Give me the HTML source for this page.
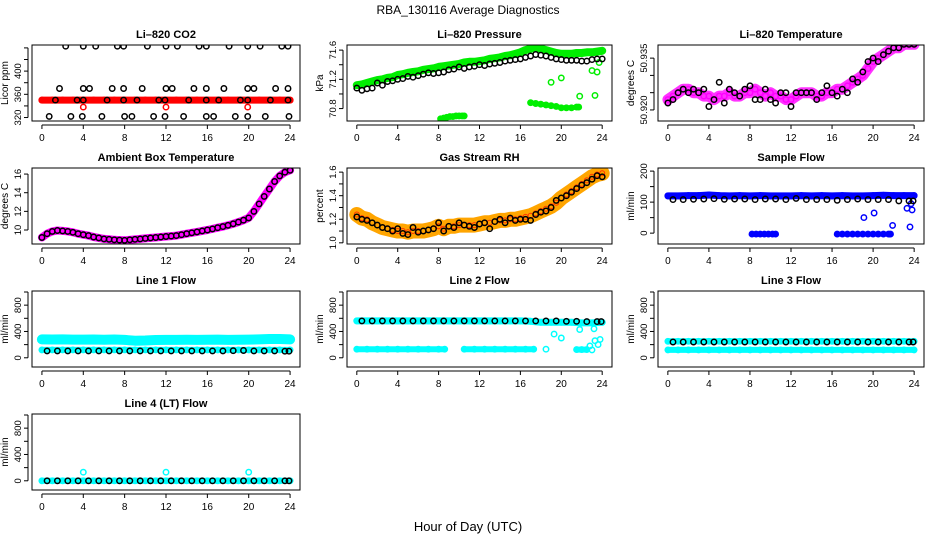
<!DOCTYPE html>
<html><head><meta charset="utf-8"><style>
html,body{margin:0;padding:0;background:#fff;}
svg{display:block;font-family:"Liberation Sans",Arial,sans-serif;}
</style></head><body>
<svg id="chart" width="936" height="540" viewBox="0 0 936 540" xmlns="http://www.w3.org/2000/svg">
<rect x="0" y="0" width="936" height="540" fill="#fff"/>
<text x="468" y="14" text-anchor="middle" font-size="12">RBA_130116  Average Diagnostics</text>
<text x="468" y="531" text-anchor="middle" font-size="13">Hour of Day (UTC)</text>
</svg>
<script>
// ---- data ----
const xTicks = [0,4,8,12,16,20,24];
const H49 = [0,0.5,1,1.5,2,2.5,3,3.5,4,4.5,5,5.5,6,6.5,7,7.5,8,8.5,9,9.5,10,10.5,11,11.5,12,12.5,13,13.5,14,14.5,15,15.5,16,16.5,17,17.5,18,18.5,19,19.5,20,20.5,21,21.5,22,22.5,23,23.5,24];
const H25 = [0,1,2,3,4,5,6,7,8,9,10,11,12,13,14,15,16,17,18,19,20,21,22,23,24];
const H25b = [0.5,1.5,2.5,3.5,4.5,5.5,6.5,7.5,8.5,9.5,10.5,11.5,12.5,13.5,14.5,15.5,16.5,17.5,18.5,19.5,20.5,21.5,22.5,23.5,23.9];

// CO2
const co2Red = [350,350,350,350,350,350,350,350,350,350,350,350,350,350,350,350,350,350,350,350,350,350,350,350,350];
const co2RedLowT = [4,12,19.9];
const co2RedLowV = [338,338,338];
const co2BlackT = [2.3,4.0,5.2,7.3,7.9,10.2,12.0,13.1,15.2,15.9,18.1,19.9,21.1,23.2,23.8,
 1.7,4.0,4.6,6.8,7.9,9.7,12.0,12.6,14.7,15.9,17.6,19.9,20.5,22.6,23.8,
 1.3,3.4,4.0,6.3,7.9,9.2,11.3,11.9,14.2,15.9,17.1,19.2,19.9,22.1,23.8,
 0.7,2.8,3.9,5.8,8.0,8.7,10.8,11.9,13.7,15.9,16.6,18.7,19.9,21.6,23.9];
const co2BlackV = [443,443,443,443,443,443,443,443,443,443,443,443,443,443,443,
 370,370,370,370,370,370,370,370,370,370,370,370,370,370,370,
 350,350,350,350,350,350,350,350,350,350,350,350,350,350,350,
 322,322,322,322,322,322,322,322,322,322,322,322,322,322,322];

// Pressure
const presGreen = [71.12,71.13,71.15,71.17,71.19,71.2,71.22,71.23,71.26,71.27,71.29,71.3,71.31,71.33,71.34,71.35,71.37,71.38,71.39,71.4,71.41,71.43,71.44,71.44,71.45,71.46,71.48,71.49,71.5,71.52,71.53,71.55,71.57,71.6,71.62,71.63,71.62,71.6,71.58,71.56,71.55,71.55,71.55,71.56,71.56,71.57,71.57,71.58,71.59];
const presBlack = [71.08,71.05,71.07,71.08,71.15,71.12,71.17,71.18,71.2,71.21,71.24,71.23,71.25,71.27,71.29,71.28,71.29,71.3,71.33,71.34,71.37,71.35,71.37,71.38,71.4,71.39,71.41,71.42,71.43,71.45,71.46,71.47,71.48,71.5,71.52,71.54,71.53,71.52,71.5,71.48,71.47,71.46,71.46,71.46,71.45,71.45,71.47,71.48,71.48];
const presLow1T = [8.2,8.5,8.8,9.1,9.4,9.7,10,10.3,10.5];
const presLow1V = [70.66,70.67,70.68,70.69,70.69,70.7,70.7,70.7,70.7];
const presLow2T = [17,17.5,18,18.5,19,19.5,20,20.5,21,21.5,21.7];
const presLow2V = [70.88,70.87,70.86,70.85,70.84,70.83,70.81,70.81,70.81,70.82,70.82];
const presScatT = [19,20,21.8,23.3,23,23.5,23.7];
const presScatV = [71.16,71.22,70.97,70.98,71.32,71.3,71.43];

// Li-820 temperature
const tempMag = [50.923,50.924,50.925,50.926,50.926,50.925,50.925,50.924,50.924,50.923,50.924,50.924,50.925,50.924,50.924,50.925,50.925,50.926,50.925,50.924,50.925,50.924,50.924,50.923,50.923,50.924,50.925,50.925,50.925,50.924,50.924,50.925,50.925,50.926,50.926,50.927,50.928,50.929,50.93,50.932,50.934,50.935,50.936,50.937,50.938,50.938,50.939,50.939,50.939];
const tempBlack = [50.922,50.923,50.925,50.926,50.925,50.926,50.925,50.926,50.921,50.923,50.928,50.922,50.926,50.925,50.924,50.926,50.927,50.923,50.923,50.926,50.923,50.922,50.925,50.925,50.921,50.925,50.925,50.925,50.925,50.923,50.925,50.927,50.925,50.924,50.926,50.925,50.929,50.928,50.931,50.934,50.935,50.934,50.936,50.937,50.938,50.938,50.939,50.939,50.939];

// Ambient box temperature
const ambTemp = [9.2,9.6,9.85,9.95,9.9,9.85,9.75,9.6,9.5,9.4,9.25,9.15,9.05,9.0,8.95,8.92,8.9,8.95,9.0,9.05,9.1,9.15,9.2,9.25,9.3,9.35,9.4,9.5,9.6,9.7,9.8,9.9,10.0,10.12,10.25,10.37,10.5,10.67,10.85,11.05,11.3,12.0,12.8,13.6,14.4,15.2,15.8,16.2,16.4];

// Gas stream RH
const rhBand = [1.24,1.21,1.2,1.17,1.15,1.13,1.12,1.11,1.1,1.1,1.09,1.1,1.1,1.1,1.11,1.12,1.14,1.12,1.14,1.14,1.15,1.15,1.15,1.15,1.16,1.17,1.17,1.18,1.19,1.19,1.2,1.2,1.21,1.22,1.23,1.25,1.27,1.29,1.31,1.34,1.38,1.41,1.44,1.47,1.5,1.53,1.56,1.58,1.59];
const rhBlack = [1.22,1.2,1.19,1.17,1.15,1.13,1.12,1.1,1.12,1.08,1.07,1.13,1.09,1.1,1.11,1.12,1.17,1.1,1.14,1.13,1.17,1.15,1.14,1.13,1.16,1.17,1.12,1.18,1.2,1.17,1.21,1.19,1.2,1.2,1.19,1.24,1.26,1.27,1.3,1.36,1.38,1.4,1.43,1.46,1.49,1.51,1.54,1.57,1.56];

// Sample flow
const sfBlue = [120,120,121,121,123,121,120,121,120,121,120,120,120,121,120,121,120,121,120,120,121,122,121,121,121];
const sfZero1T = [8.2,8.6,9.0,9.4,9.8,10.2,10.5];
const sfZero1V = [-3,-3,-3,-3,-3,-3,-3];
const sfZero2T = [16.5,17,17.5,18,18.5,19,19.5,20,20.5,21,21.5,21.7];
const sfZero2V = [-3,-3,-3,-3,-3,-3,-3,-3,-3,-3,-3,-3];
const sfScatT = [19.1,20.1,21.9,23.3,23.6,23.8,23.7];
const sfScatV = [50,65,25,80,20,75,95];
const sfBlack = [108,108,109,110,111,109,110,110,108,110,110,108,112,108,108,108,106,108,110,108,108,108,104,104,104];

// Line 1
const l1High = [280,278,280,276,277,278,275,278,272,260,262,270,272,272,274,272,275,276,272,275,276,280,285,285,280];
const l1Low = [120,120,120,120,120,120,120,120,120,120,120,120,120,120,120,120,120,120,120,120,120,120,120,120,120];
const l1Black = [105,105,105,105,105,105,105,105,105,105,105,105,105,105,105,105,105,105,108,110,105,105,105,100,100];

// Line 2
const l2High = [560,560,560,560,560,560,560,560,560,560,560,560,560,560,560,560,560,555,540,540,540,540,530,530,540];
const l2LowAT = [0,1,2,3,4,5,6,7,8,8.6];
const l2LowAV = [130,130,130,130,130,130,130,130,130,130];
const l2LowBT = [10.5,11.5,12.5,13.5,14.5,15.5,16.5,17.3];
const l2LowBV = [130,130,130,130,130,130,130,130];
const l2LowCT = [21.5,22,22.5];
const l2LowCV = [125,125,125];
const l2ScatT = [18.5,19.3,20,21.8,23.2,22.8,23.0,23.3,23.6,23.8];
const l2ScatV = [130,360,300,430,440,180,120,260,200,280];
const l2Black = [560,560,560,560,560,560,560,560,560,560,560,560,560,560,560,560,560,560,560,560,555,555,550,550,550];

// Line 3
const l3High = [250,250,250,250,250,250,250,250,250,250,250,250,250,250,250,250,250,250,250,250,250,250,250,250,250];
const l3Low = [120,120,120,120,120,120,120,120,120,120,120,120,120,120,120,120,120,120,120,120,120,120,120,120,120];
const l3Black = [240,240,240,240,240,240,240,240,240,240,240,240,240,240,240,240,240,240,240,240,240,240,240,240,240];

// Line 4
const l4Cyan = [0,0,0,0,0,0,0,0,0,0,0,0,0,0,0,0,0,0,0,0,0,0,0,0,0];
const l4SpikeT = [4,12,20];
const l4SpikeV = [130,130,130];
const l4Black = [0,0,0,0,0,0,0,0,0,0,0,0,0,0,0,0,0,0,0,0,0,0,0,0,0];

// ---- drawing ----
const NS = "http://www.w3.org/2000/svg";
const svg = document.getElementById("chart");
const colL = [32,347,658], colR = [300,612,924];
const rowT = [45,168,291,414], BOXH = 76;

function mk(tag, attrs, parent){
  const e = document.createElementNS(NS, tag);
  for (const k in attrs) e.setAttribute(k, attrs[k]);
  (parent||svg).appendChild(e);
  return e;
}

function panel(id, c, r, title, ylab, ymin, ymax, ticks, labels, series){
  const L = colL[c], R = colR[c], T = rowT[r], B = T + BOXH;
  const g = mk("g", {});
  
  
  const xs = h => L + (h + 0.96) / 25.92 * (R - L);
  const ys = v => B - (v - ymin) / (ymax - ymin) * (B - T);
  const t = mk("text", {x:(L+R)/2, y:T-7, "text-anchor":"middle", "font-size":"11", "font-weight":"bold"}, g);
  t.textContent = title;
  
  
  const clip = mk("clipPath", {id:"clip-"+id}, g);
  mk("rect", {x:L, y:T, width:R-L, height:BOXH}, clip);
  const plot = mk("g", {"clip-path":"url(#clip-"+id+")"}, g);
  
  
  series.forEach(s => {
    if (s.band) {
      const pts = s.t.map((h,i)=> xs(h).toFixed(1)+","+ys(s.v[i]).toFixed(1)).join(" ");
      const pl = mk("polyline", {points:pts, fill:"none", stroke:s.bandColor||s.color, "stroke-width":s.band, "stroke-linecap":"round", "stroke-linejoin":"round", "stroke-opacity":s.op||1}, plot);
      
      
    }
    s.t.forEach((h,i) => {
      const ci = mk("circle", {cx:xs(h).toFixed(1), cy:ys(s.v[i]).toFixed(1), r:s.r||2.7, fill:"none", stroke:s.color, "stroke-width":s.sw||1.5}, plot);
      
      
    });
  });
  const box = mk("rect", {x:L, y:T, width:R-L, height:BOXH, fill:"none", stroke:"#000", "stroke-width":1}, g);
  
  
  const xa = mk("g", {}, g);
  
  
  mk("line", {x1:xs(xTicks[0]), x2:xs(xTicks[xTicks.length-1]), y1:B+4, y2:B+4, stroke:"#000"}, xa);
  xTicks.forEach(v => {
    mk("line", {x1:xs(v), x2:xs(v), y1:B+4, y2:B+8, stroke:"#000"}, xa);
    const tl = mk("text", {x:xs(v), y:B+20, "text-anchor":"middle", "font-size":"10"}, xa);
    tl.textContent = v;
    
    
  });
  const ya = mk("g", {}, g);
  
  
  mk("line", {x1:L-4, x2:L-4, y1:ys(ticks[0]), y2:ys(ticks[ticks.length-1]), stroke:"#000"}, ya);
  ticks.forEach(v => {
    mk("line", {x1:L-8, x2:L-4, y1:ys(v), y2:ys(v), stroke:"#000"}, ya);
  });
  labels.forEach(lb => {
    const yy = ys(parseFloat(lb));
    const tl = mk("text", {x:L-11, y:yy, "text-anchor":"middle", "font-size":"9.5", transform:"rotate(-90 "+(L-11)+" "+yy+")"}, ya);
    tl.textContent = lb;
    
    
  });
  const yt = mk("text", {x:L-24, y:(T+B)/2, "text-anchor":"middle", "font-size":"10", transform:"rotate(-90 "+(L-24)+" "+((T+B)/2)+")"}, g);
  yt.textContent = ylab;
  
  
}

const flowTicks = [0,200,400,600,800,1000];
const flowLabels = ["0","400","800"];

panel("co2",0,0,"Li\u2013820 CO2","Licor ppm",314,445,[320,340,360,380,400,420,440],["320","360","400"],[
  {name:"co2-red", t:H25, v:co2Red, color:"#ff0000", band:7},
  {name:"co2-red-low", t:co2RedLowT, v:co2RedLowV, color:"#ff0000"},
  {name:"co2-black", t:co2BlackT, v:co2BlackV, color:"#000"}
]);
panel("pressure",1,0,"Li\u2013820 Pressure","kPa",70.63,71.67,[70.8,71.0,71.2,71.4,71.6],["70.8","71.2","71.6"],[
  {name:"pressure-green", t:H49, v:presGreen, color:"#00ee00", band:8},
  {name:"pressure-green-low1", t:presLow1T, v:presLow1V, color:"#00ee00", band:5},
  {name:"pressure-green-low2", t:presLow2T, v:presLow2V, color:"#00ee00", band:5},
  {name:"pressure-green-scatter", t:presScatT, v:presScatV, color:"#00ee00"},
  {name:"pressure-black", t:H49, v:presBlack, color:"#000"}
]);
panel("temperature",2,0,"Li\u2013820 Temperature","degrees C",50.9168,50.9388,[50.920,50.925,50.930,50.935],["50.920","50.935"],[
  {name:"temp-magenta", t:H49, v:tempMag, color:"#ff00ff", band:11, op:0.8},
  {name:"temp-black", t:H49, v:tempBlack, color:"#000"}
]);
panel("ambient",0,1,"Ambient Box Temperature","degrees C",8.5,16.65,[10,12,14,16],["10","12","14","16"],[
  {name:"ambient-magenta", t:H49, v:ambTemp, color:"#ff00ff", band:8},
  {name:"ambient-black", t:H49, v:ambTemp, color:"#000"}
]);
panel("rh",1,1,"Gas Stream RH","percent",0.99,1.635,[1.0,1.1,1.2,1.3,1.4,1.5,1.6],["1.0","1.2","1.4","1.6"],[
  {name:"rh-band", t:H49, v:rhBand, color:"#ff3300", bandColor:"#ffa500", band:15, r:2.5, sw:1},
  {name:"rh-black", t:H49, v:rhBlack, color:"#000"}
]);
panel("sampleflow",2,1,"Sample Flow","ml/min",-35,210,[0,50,100,150,200],["0","100","200"],[
  {name:"sample-blue", t:H25, v:sfBlue, color:"#0000ff", band:7},
  {name:"sample-zero1", t:sfZero1T, v:sfZero1V, color:"#0000ff", band:5},
  {name:"sample-zero2", t:sfZero2T, v:sfZero2V, color:"#0000ff", band:5},
  {name:"sample-scatter", t:sfScatT, v:sfScatV, color:"#0000ff"},
  {name:"sample-black", t:H25b, v:sfBlack, color:"#000"}
]);
panel("line1",0,2,"Line 1 Flow","ml/min",-140,1015,flowTicks,flowLabels,[
  {name:"line1-cyan-high", t:H25, v:l1High, color:"#00ffff", band:10},
  {name:"line1-cyan-low", t:H25, v:l1Low, color:"#00ffff", band:6},
  {name:"line1-black", t:H25b, v:l1Black, color:"#000"}
]);
panel("line2",1,2,"Line 2 Flow","ml/min",-140,1015,flowTicks,flowLabels,[
  {name:"line2-cyan-high", t:H25, v:l2High, color:"#00ffff", band:7},
  {name:"line2-cyan-lowA", t:l2LowAT, v:l2LowAV, color:"#00ffff", band:6},
  {name:"line2-cyan-lowB", t:l2LowBT, v:l2LowBV, color:"#00ffff", band:6},
  {name:"line2-cyan-lowC", t:l2LowCT, v:l2LowCV, color:"#00ffff", band:6},
  {name:"line2-cyan-scatter", t:l2ScatT, v:l2ScatV, color:"#00ffff"},
  {name:"line2-black", t:H25b, v:l2Black, color:"#000"}
]);
panel("line3",2,2,"Line 3 Flow","ml/min",-140,1015,flowTicks,flowLabels,[
  {name:"line3-cyan-high", t:H25, v:l3High, color:"#00ffff", band:6},
  {name:"line3-cyan-low", t:H25, v:l3Low, color:"#00ffff", band:6},
  {name:"line3-black", t:H25b, v:l3Black, color:"#000"}
]);
panel("line4",0,3,"Line 4 (LT) Flow","ml/min",-140,1015,flowTicks,flowLabels,[
  {name:"line4-cyan", t:H25, v:l4Cyan, color:"#00ffff", band:6},
  {name:"line4-cyan-spikes", t:l4SpikeT, v:l4SpikeV, color:"#00ffff"},
  {name:"line4-black", t:H25b, v:l4Black, color:"#000"}
]);
</script>
</body></html>
